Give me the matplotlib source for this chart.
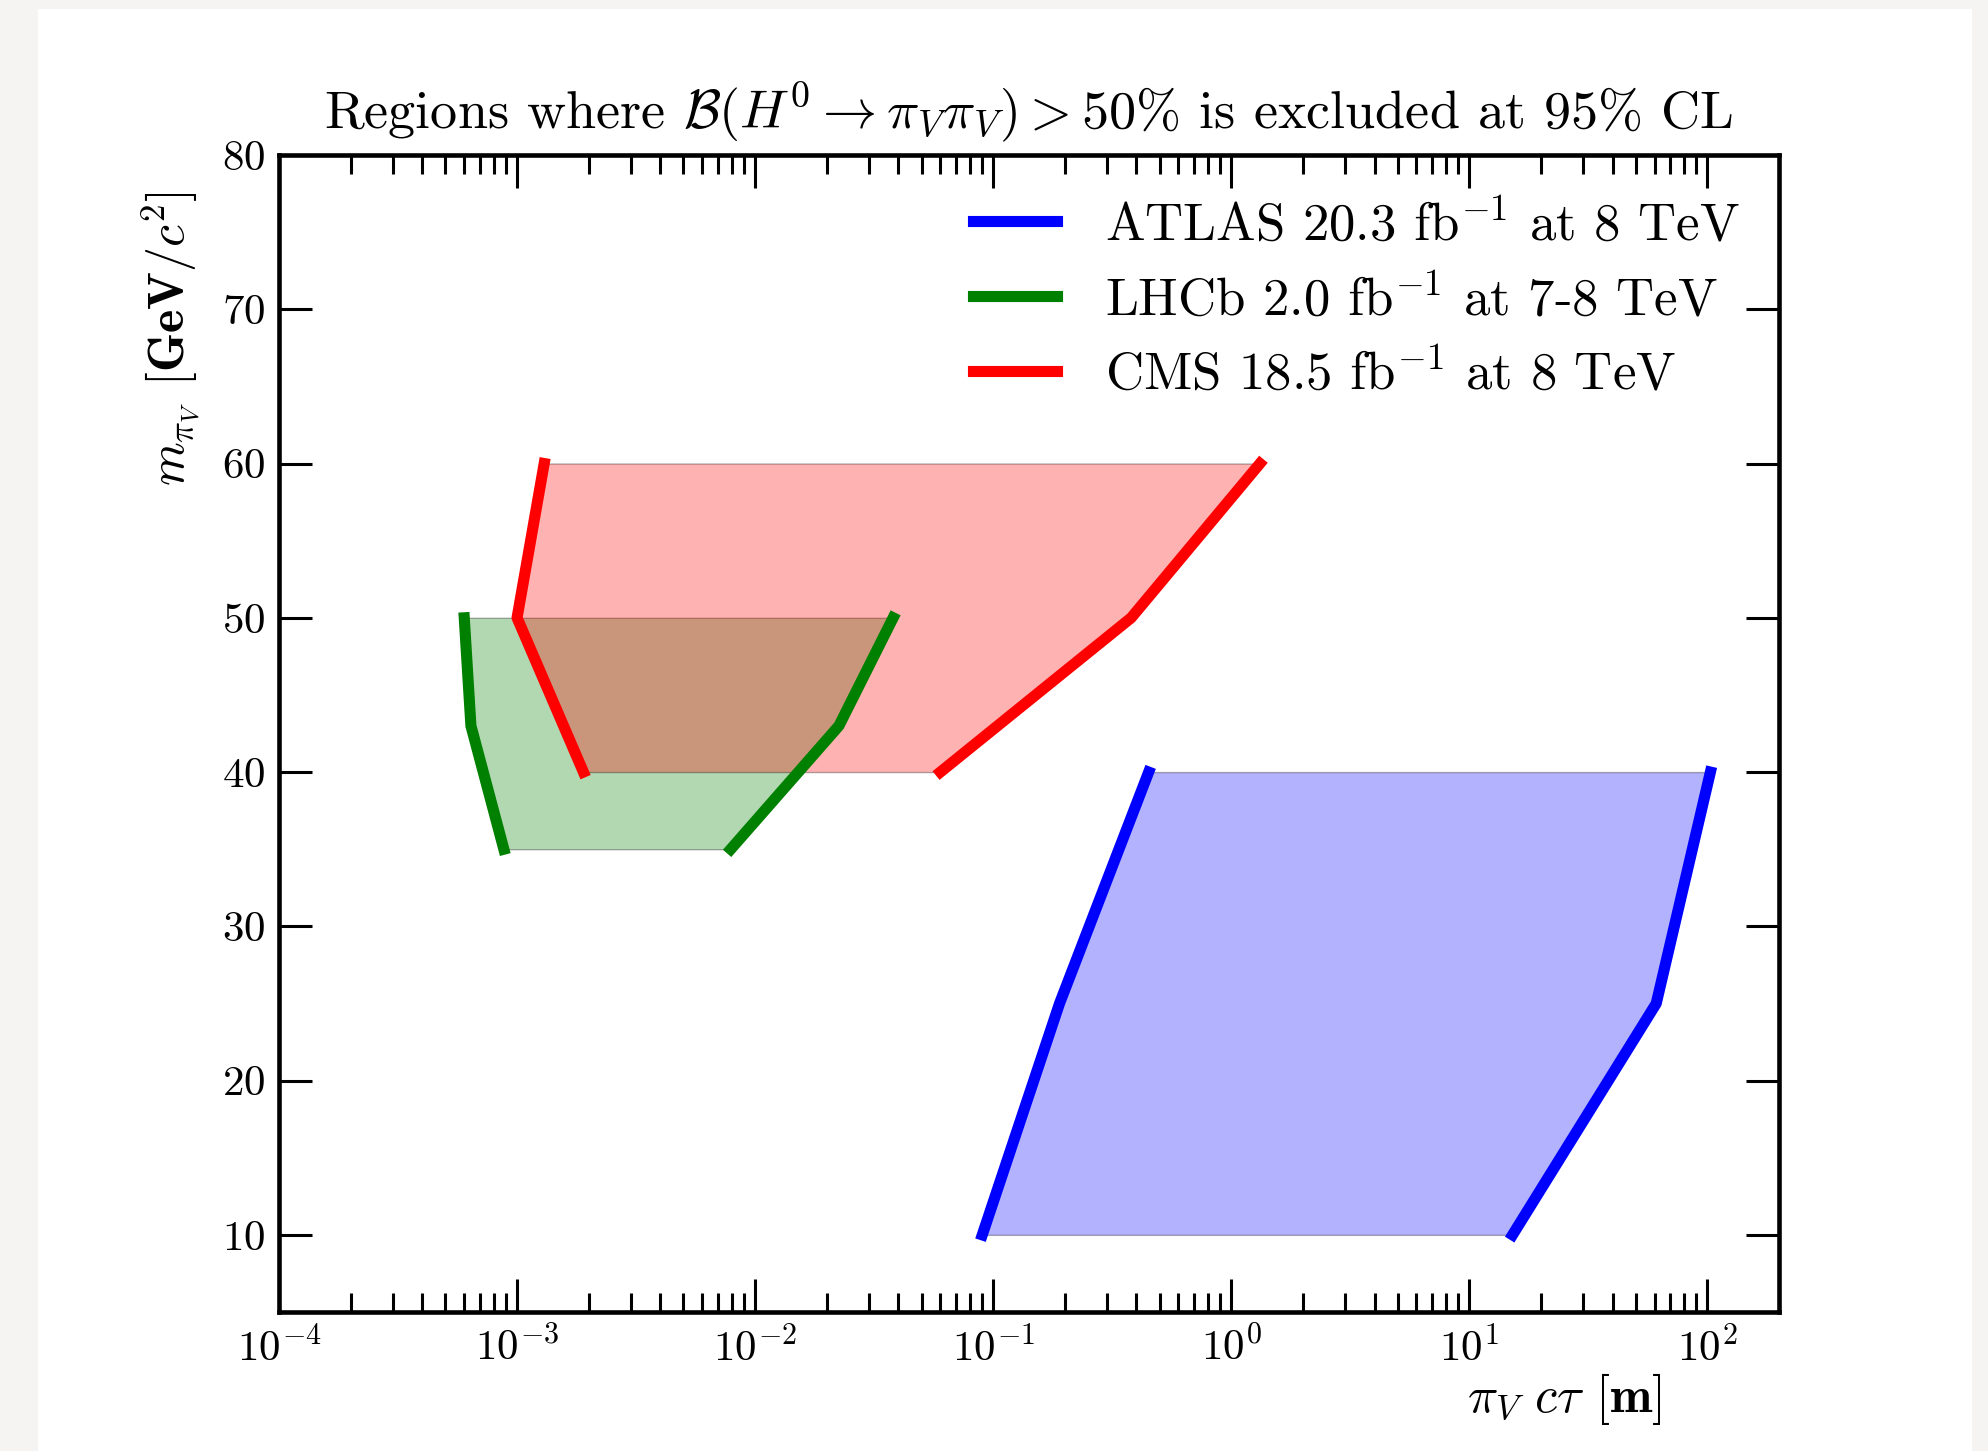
import matplotlib
matplotlib.use('Agg')
import matplotlib.pyplot as plt
from matplotlib.patches import Rectangle

# ---- data ----
atlas_mass = [10, 25, 40]
atlas_ctau_low = [0.09, 0.19, 0.45]
atlas_ctau_high = [15.2, 61.0, 103.0]

lhcb_mass = [35, 43, 50]
lhcb_ctau_low = [0.00088, 0.00064, 0.00060]
lhcb_ctau_high = [0.0079, 0.0225, 0.038]

cms_mass = [40, 50, 60]
cms_ctau_low = [0.0019, 0.0010, 0.0013]
cms_ctau_high = [0.060, 0.38, 1.32]

labels = [r"ATLAS 20.3 fb$^{-1}$ at 8 TeV",
          r"LHCb 2.0 fb$^{-1}$ at 7-8 TeV",
          r"CMS 18.5 fb$^{-1}$ at 8 TeV"]
colors = ["blue", "green", "red"]

xticks = [1e-4, 1e-3, 1e-2, 1e-1, 1e0, 1e1, 1e2]
yticks = [10, 20, 30, 40, 50, 60, 70, 80]

plt.rcParams.update({
    'font.family': 'serif',
    'font.serif': ['cmr10'],
    'mathtext.fontset': 'cm',
    'axes.formatter.use_mathtext': True,
    'axes.unicode_minus': False,
})

W, H = 1988, 1451
fig = plt.figure(figsize=(W / 100, H / 100), dpi=100, facecolor='#f5f4f2')
bg = Rectangle((38 / W, 0), (1972 - 38) / W, 1 - 9 / H,
               transform=fig.transFigure, facecolor='white',
               edgecolor='none', zorder=-10)
fig.add_artist(bg)

ax = fig.add_axes([279 / W, 1 - 1312 / H, (1779 - 279) / W, (1312 - 155) / H])
ax.set_zorder(5)
ax.set_facecolor('white')

series = [(atlas_mass, atlas_ctau_low, atlas_ctau_high),
          (lhcb_mass, lhcb_ctau_low, lhcb_ctau_high),
          (cms_mass, cms_ctau_low, cms_ctau_high)]

lw = 8.0
handles = []
for (m, lo, hi), c, lab in zip(series, colors, labels):
    ax.fill_betweenx(m, lo, hi, facecolor=c, edgecolor='k', alpha=0.3,
                     linewidth=1.0, zorder=1)
    ax.plot(lo, m, color=c, lw=lw, zorder=3)
    h, = ax.plot(hi, m, color=c, lw=lw, zorder=3, label=lab)
    handles.append(h)

ax.set_xscale('log')
ax.set_xlim(1e-4, 2e2)
ax.set_ylim(5, 80)
ax.set_xticks(xticks)
ax.set_yticks(yticks)

for s in ax.spines.values():
    s.set_linewidth(3.3)

ax.tick_params(which='major', direction='in', length=24, width=2.2,
               top=True, right=True, labelsize=31, pad=10)
ax.tick_params(axis='x', which='minor', direction='in', length=14, width=2.2,
               top=True, bottom=True)
ax.tick_params(axis='y', which='minor', left=False, right=False)

ax.set_title(r"Regions where $\mathcal{B}(H^0 \rightarrow \pi_V\pi_V) > 50\%$ is excluded at $95\%$ CL",
             fontsize=39, pad=19)

ax.set_xlabel(r"$\pi_V\ c\tau$ $\mathbf{[m]}$", fontsize=36.5)
ax.xaxis.set_label_coords(0.857, -0.075)
ax.xaxis.label.set_verticalalignment('center')
ax.set_ylabel(r"$m_{\pi_V}$ $\mathbf{[GeV/}c^2\mathbf{]}$", fontsize=36)
ax.yaxis.set_label_coords(-0.072, 0.841)
ax.yaxis.label.set_verticalalignment('center')

leg = ax.legend(handles=handles, loc='upper left',
                bbox_to_anchor=(973 / W, 1 - 199 / H),
                bbox_transform=fig.transFigure, frameon=False,
                fontsize=38, borderpad=0, borderaxespad=0,
                handlelength=1.6, handletextpad=0.9, labelspacing=0.45)

fig.savefig('out.png', dpi=100, facecolor=fig.get_facecolor())
